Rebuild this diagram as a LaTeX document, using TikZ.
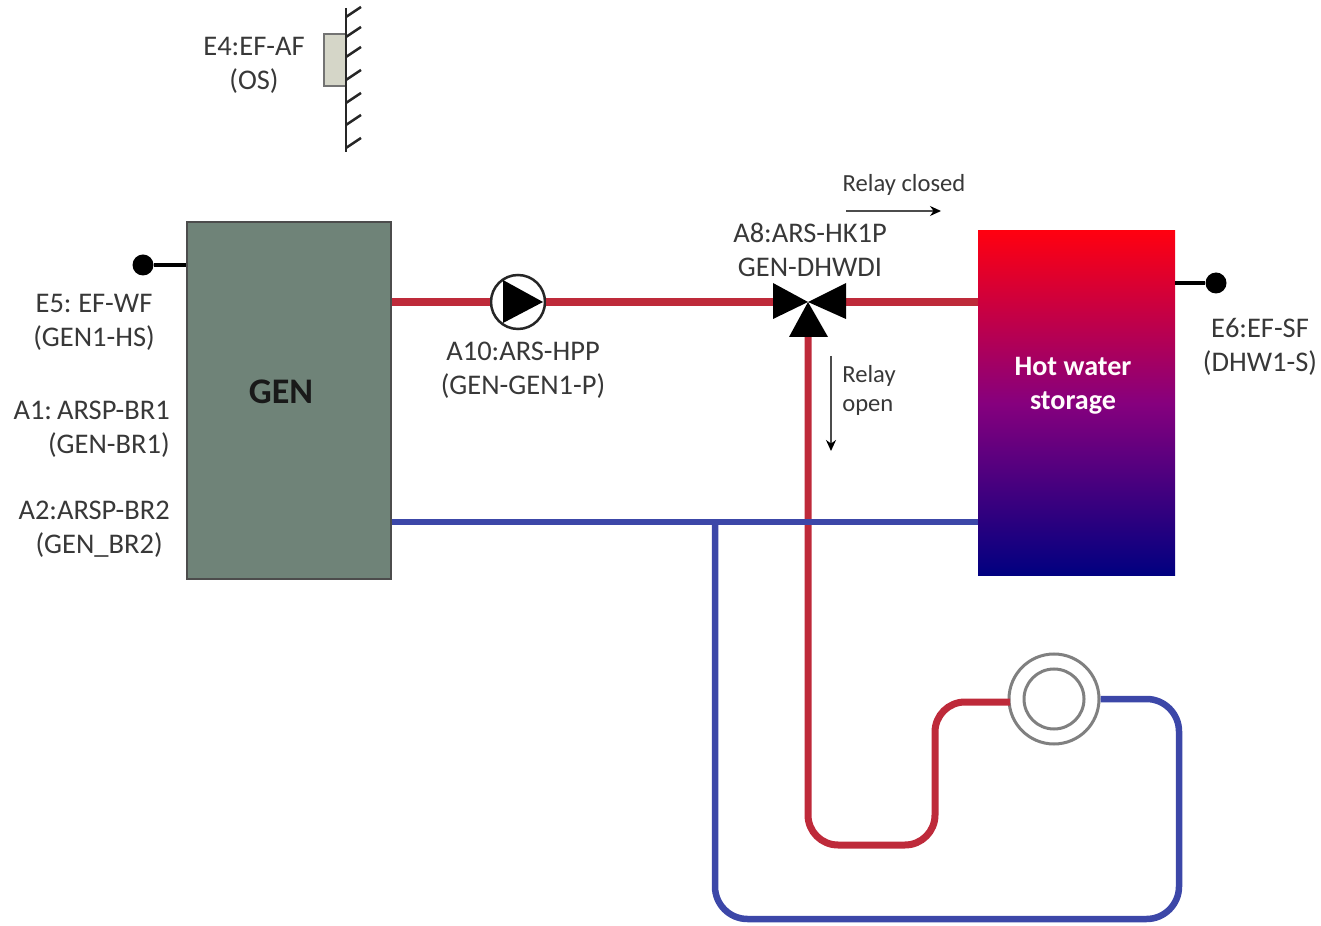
\documentclass[tikz,border=0pt]{standalone}
\usepackage{fontspec}
\setmainfont{Carlito}
\usetikzlibrary{arrows.meta}
\definecolor{genfill}{HTML}{6F8378}
\definecolor{pipered}{HTML}{BE2A3A}
\definecolor{pipeblue}{HTML}{3C47A8}
\definecolor{sensorfill}{HTML}{D5D6C8}
\definecolor{tankmid}{HTML}{86007E}
\definecolor{tanktop}{HTML}{FF0010}
\definecolor{tankbottom}{HTML}{000080}
\begin{document}
\begin{tikzpicture}[
    label/.style={font=\fontsize{16.2}{19.3}\selectfont, text=black!78, align=center, inner sep=0pt},
    smalllabel/.style={font=\fontsize{14}{16.5}\selectfont, text=black!78, align=left, inner sep=0pt},
    redpipe/.style={draw=pipered, line width=0.14cm},
    bluepipe/.style={draw=pipeblue, line width=0.13cm},
    relayarrow/.style={draw=black!70, line width=0.03cm, -{Stealth[length=0.22cm, width=0.2cm, black]}},
    wire/.style={draw=black, line width=0.07cm},
    sensordot/.style={circle, fill=black, inner sep=0pt, minimum size=0.42cm}
]
    \useasboundingbox (0, 0) rectangle (26.42, 18.5);

    % Boiler and storage
    \node[rectangle, draw=black!70, line width=0.04cm, fill=genfill, minimum width=4.08cm, minimum height=7.14cm] (gen) at (5.78, 10.49) {};
    \node[font=\fontsize{20.5}{24}\selectfont\bfseries, text=black!90, inner sep=0pt] (genlabel) at (5.62, 10.66) {GEN};
    \node[rectangle, top color=tanktop, bottom color=tankbottom, middle color=tankmid, minimum width=3.94cm, minimum height=6.9cm] (tank) at (21.53, 10.43) {};
    \node[font=\fontsize{16}{19.3}\selectfont\bfseries, text=white!95!pink, align=center, inner sep=0pt] (tanklabel) at (21.46, 10.78) {Hot water\\storage};

    % Pump, valve and consumer
    \node[circle, draw=black!85, line width=0.05cm, fill=white, minimum size=1.08cm, inner sep=0pt] (pump) at (10.36, 12.46) {};
    \coordinate (valve) at (16.16, 12.46);
    \coordinate (valvewest) at (15.46, 12.46);
    \coordinate (valveeast) at (16.92, 12.46);
    \coordinate (valvesouth) at (16.16, 11.76);
    \node[circle, draw=black!50, line width=0.06cm, fill=white, minimum size=1.8cm, inner sep=0pt] (fan) at (21.08, 4.52) {};
    \node[circle, draw=black!50, line width=0.06cm, minimum size=1.2cm, inner sep=0pt] (faninner) at (21.08, 4.52) {};
    \coordinate (fanred) at (20.2, 4.46);
    \coordinate (tee) at (14.3, 8.06);

    % Flow
    \draw[redpipe, line width=0.16cm] (gen.east |- pump) -- (pump.west);
    \draw[redpipe, line width=0.16cm] (pump.east) -- (valvewest);
    \draw[redpipe, line width=0.16cm] (valveeast) -- (tank.west |- valve);
    \draw[redpipe, rounded corners=0.6cm] (valvesouth) -- (16.16, 1.6) -- (18.7, 1.6) -- (18.7, 4.46) -- (fanred);

    % Return
    \draw[bluepipe] (gen.east |- tee) -- (tank.west |- tee);
    \draw[bluepipe, rounded corners=0.65cm] (tee) -- (14.3, 0.12) -- (23.58, 0.12) -- (23.58, 4.52) -- (fan.east);

    % Symbols on top of the pipes
    \fill[black, shift={(pump)}] (-0.3, 0.44) -- (0.5, 0) -- (-0.3, -0.42) -- cycle;
    \fill[black, shift={(valve)}] (0, 0) -- (-0.7, 0.38) -- (-0.7, -0.34) -- cycle;
    \fill[black, shift={(valve)}] (0, 0) -- (0.76, 0.38) -- (0.76, -0.34) -- cycle;
    \fill[black, shift={(valve)}] (0, 0) -- (0.4, -0.7) -- (-0.38, -0.7) -- cycle;

    % Outside sensor on the wall
    \node[rectangle, draw=black!55, line width=0.04cm, fill=sensorfill, minimum width=0.44cm, minimum height=1.04cm, inner sep=0pt] (outside) at (6.7, 17.3) {};
    \coordinate (walltop) at (6.92, 18.34);
    \coordinate (wallbottom) at (6.92, 15.46);
    \draw[line width=0.05cm, black!85] (walltop) -- (wallbottom);
    \foreach \y in {18.16, 17.76, 17.36, 16.9, 16.44, 16.0, 15.54} {
        \draw[line width=0.05cm, black!85] (6.92, \y) -- ++(0.3, 0.2);
    }

    % Sensors on boiler and storage
    \node[sensordot] (wf) at (2.86, 13.2) {};
    \node[sensordot] (sf) at (24.32, 12.84) {};
    \draw[wire] (wf) -- (gen.west |- wf);
    \draw[wire] (sf) -- (tank.east |- sf);

    % Relay directions
    \coordinate (closedstart) at (16.92, 14.28);
    \coordinate (closedend) at (18.82, 14.28);
    \coordinate (openstart) at (16.62, 11.38);
    \coordinate (openend) at (16.62, 9.48);
    \draw[relayarrow] (closedstart) -- (closedend);
    \draw[relayarrow] (openstart) -- (openend);

    % Labels
    \node[label] (lblfour) at (5.08, 17.2) {E4:EF-AF\\(OS)};
    \node[label] (lblfive) at (1.88, 12.06) {{\spaceskip=0.16em E5: EF-WF}\\(GEN1-HS)};
    \node[label, align=right, anchor=east] (lblone) at (3.4, 9.92) {{\spaceskip=0.1em A1: ARSP-BR1}\\(GEN-BR1)};
    \node[label, align=right, anchor=east] (lbltwo) at (3.4, 7.92) {A2:ARSP-BR2\\(GEN\_BR2)\hspace*{0.14cm}};
    \node[label] (lblten) at (10.46, 11.1) {A10:ARS-HPP\\(GEN-GEN1-P)};
    \node[label] (lbleight) at (16.2, 13.5) {A8:ARS-HK1P\\GEN-DHWDI};
    \node[label] (lblsix) at (25.2, 11.56) {E6:EF-SF\\(DHW1-S)};
    \node[smalllabel] (lblclosed) at (18.08, 14.8) {Relay closed};
    \node[smalllabel, anchor=west] (lblopen) at (16.84, 10.7) {Relay\\open};
\end{tikzpicture}
\end{document}
